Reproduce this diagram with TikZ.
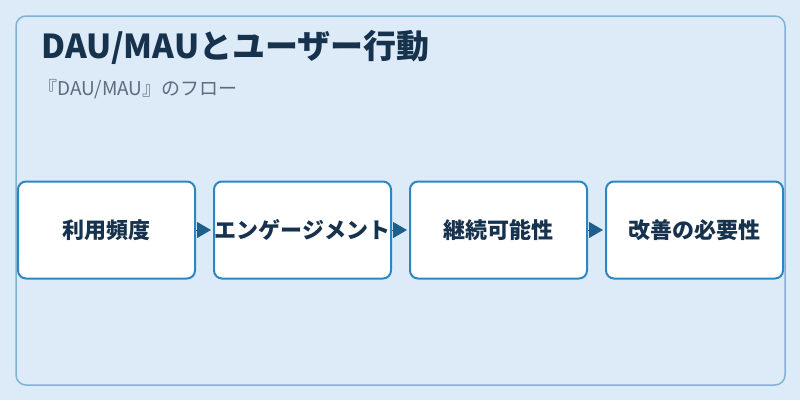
\documentclass[tikz,border=0pt]{standalone}
\usepackage{fontspec}
\setmainfont{Noto Sans CJK JP}
\usepackage{xcolor}
\usetikzlibrary{positioning,arrows.meta}

\definecolor{pagebg}{HTML}{DCEBF7}
\definecolor{framecol}{HTML}{7FB3D5}
\definecolor{boxcol}{HTML}{2E86C1}
\definecolor{arrowcol}{HTML}{1F5F8B}
\definecolor{titlecol}{HTML}{17324D}
\definecolor{subcol}{HTML}{5D6D7E}

\begin{document}
\begin{tikzpicture}[
    x=1pt, y=-1pt,
    node distance=17pt,
    stage/.style={rectangle, draw=boxcol, line width=2pt, fill=white, rounded corners=8pt,
        inner sep=0pt, minimum width=177pt, minimum height=97pt, text=titlecol,
        font=\bfseries\fontsize{22}{26}\selectfont},
    line/.style={draw=arrowcol, line width=1pt, shorten >=2pt, -{Triangle[length=14pt,width=16pt]}}
]

\path [fill=pagebg] (0,0) rectangle (800,400);
\draw [framecol, line width=1.5pt, rounded corners=10pt] (16,16) rectangle (785,385);

\node [anchor=base west, text=titlecol, font=\bfseries\fontsize{33}{38}\selectfont] (title) at (38,58) {DAU/MAUとユーザー行動};
\node [anchor=base west, text=subcol, font=\fontsize{19}{22}\selectfont] (subtitle) at (35,95) {『DAU/MAU』のフロー};

\node [stage] (freq) at (106.5,230) {利用頻度};
\node [stage, right=of freq] (engage) {エンゲージメント};
\node [stage, right=of engage] (keep) {継続可能性};
\node [stage, right=of keep] (improve) {改善の必要性};

\path [line] (freq) -- (engage);
\path [line] (engage) -- (keep);
\path [line] (keep) -- (improve);

\end{tikzpicture}
\end{document}
